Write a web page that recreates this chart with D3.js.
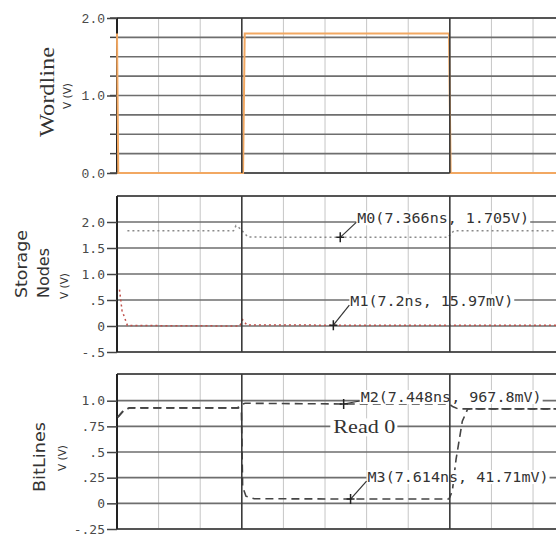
<!DOCTYPE html>
<html><head><meta charset="utf-8">
<script src="https://cdn.jsdelivr.net/npm/d3@7"></script>
<style>html,body{margin:0;padding:0;background:#fff}</style>
</head><body>
<script>
// ---------- data ----------
const wlTime = [2.0, 2.03, 5.03, 5.07, 9.98, 10.02, 12.8];
const wlVolt = [1.8, 0.0, 0.0, 1.8, 1.8, 0.0, 0.0];

const qTime = [2.25, 4.8, 4.86, 4.92, 5.02, 5.15, 7.366, 9.96, 10.03, 10.1, 12.8];
const qVolt = [1.83, 1.83, 1.93, 1.9, 1.82, 1.71, 1.705, 1.705, 1.78, 1.83, 1.83];

const qbTime = [2.06, 2.12, 2.25, 4.95, 5.02, 5.12, 7.2, 12.8];
const qbVolt = [0.70, 0.30, 0.01, 0.0, 0.12, 0.02, 0.016, 0.016];

const blTime = [2.02, 2.15, 2.3, 4.9, 4.97, 5.08, 7.448, 9.98, 10.08, 10.2, 12.8];
const blVolt = [0.84, 0.90, 0.93, 0.93, 0.96, 0.975, 0.968, 0.968, 0.94, 0.92, 0.92];

const blbTime = [2.02, 2.15, 2.3, 4.92, 4.99, 5.02, 5.1, 5.3, 7.614, 9.98, 10.06, 10.15, 10.3, 10.43, 12.8];
const blbVolt = [0.84, 0.90, 0.93, 0.93, 0.90, 0.16, 0.07, 0.045, 0.042, 0.042, 0.12, 0.43, 0.80, 0.92, 0.92];

const markerNames = ["M0", "M1", "M2", "M3"];
const markerTimes = [7.366, 7.2, 7.448, 7.614];
const markerValues = [1.705, 0.01597, 0.9678, 0.04171];
const markerValueText = ["1.705V", "15.97mV", "967.8mV", "41.71mV"];
const markerPanel = [1, 1, 2, 2];

const wlTickValues = [0, 1, 2];
const wlTickLabels = ["0.0", "1.0", "2.0"];
const snTickValues = [-0.5, 0, 0.5, 1, 1.5, 2];
const snTickLabels = ["-.5", "0", ".5", "1.0", "1.5", "2.0"];
const blTickValues = [-0.25, 0, 0.25, 0.5, 0.75, 1];
const blTickLabels = ["-.25", "0", ".25", ".5", ".75", "1.0"];
const timeGrid = [3, 4, 5, 6, 7, 8, 9, 10, 11, 12];
const timeMajor = [5, 10];

// ---------- layout ----------
const W = 556, H = 536;
const svg = d3.select("body").append("svg").attr("width", W).attr("height", H)
  .style("display", "block").style("background", "#fff");

const x = d3.scaleLinear().domain([2, 12.6]).range([117, 558]);

const panels = [
  { y: d3.scaleLinear().domain([0, 2]).range([173, 18]), top: 2, bottom: 0,
    grid: d3.range(0, 2.01, 0.25), ticks: wlTickValues, labels: wlTickLabels,
    minor: d3.range(0, 2.01, 0.25), tickFont: "Liberation Mono", tickSize: 13 },
  { y: d3.scaleLinear().domain([-0.5, 2.5]).range([352, 196]), top: 2.5, bottom: -0.5,
    grid: d3.range(-0.5, 2.01, 0.5), ticks: snTickValues, labels: snTickLabels,
    minor: [], tickFont: "DejaVu Sans Mono", tickSize: 13 },
  { y: d3.scaleLinear().domain([-0.25, 1.26]).range([529, 374]), top: 1.26, bottom: -0.25,
    grid: d3.range(-0.25, 1.01, 0.25), ticks: blTickValues, labels: blTickLabels,
    minor: [], tickFont: "DejaVu Sans Mono", tickSize: 13 }
];

const gridLayer = svg.append("g");
const traceLayer = svg.append("g");
const bgLayer = svg.append("g");
const majorLayer = svg.append("g");
const textLayer = svg.append("g");

panels.forEach((p) => {
  const yT = p.y(p.top), yB = p.y(p.bottom);
  gridLayer.selectAll(null).data(timeGrid.filter(t => !timeMajor.includes(t))).join("line")
    .attr("x1", d => x(d)).attr("x2", d => x(d)).attr("y1", yT).attr("y2", yB)
    .attr("stroke", "#c6c6c6").attr("stroke-width", 1);
  gridLayer.selectAll(null).data(p.grid).join("line")
    .attr("x1", 117).attr("x2", W).attr("y1", d => p.y(d)).attr("y2", d => p.y(d))
    .attr("stroke", "#6e6e6e").attr("stroke-width", 1.7);
  gridLayer.append("line").attr("x1", 117).attr("x2", W).attr("y1", yT).attr("y2", yT)
    .attr("stroke", "#555").attr("stroke-width", 2);
  gridLayer.append("line").attr("x1", 117).attr("x2", W).attr("y1", yB).attr("y2", yB)
    .attr("stroke", "#555").attr("stroke-width", 2);
  majorLayer.selectAll(null).data(timeMajor).join("line")
    .attr("x1", d => x(d)).attr("x2", d => x(d)).attr("y1", yT).attr("y2", yB)
    .attr("stroke", "#3a3a3a").attr("stroke-width", 1.6);
  const ax = d3.axisLeft(p.y).tickValues(p.ticks)
    .tickFormat((d, i) => p.labels[i]).tickSize(10).tickPadding(2);
  const g = gridLayer.append("g").attr("transform", "translate(117,0)").call(ax);
  g.select(".domain").attr("d", `M0,${yT}V${yB}`).attr("stroke", "#222").attr("stroke-width", 2);
  g.selectAll(".tick line").attr("stroke", "#444").attr("stroke-width", 1.5);
  g.selectAll(".tick text").attr("font-family", p.tickFont).attr("font-size", p.tickSize)
    .attr("fill", "#4a4a4a");
  if (p.minor.length) {
    gridLayer.selectAll(null).data(p.minor).join("line")
      .attr("x1", 110).attr("x2", 117).attr("y1", d => p.y(d)).attr("y2", d => p.y(d))
      .attr("stroke", "#444").attr("stroke-width", 1.5);
  }
});

// ---------- traces ----------
function drawTrace(times, volts, panel, color, dash, width) {
  const pts = times.map((t, i) => [t, volts[i]]);
  const line = d3.line().x(d => x(d[0])).y(d => panels[panel].y(d[1]));
  traceLayer.append("path").attr("d", line(pts)).attr("fill", "none")
    .attr("stroke", color).attr("stroke-width", width)
    .attr("stroke-dasharray", dash);
}
drawTrace(wlTime, wlVolt, 0, "#f2a862", null, 2);
drawTrace(qTime, qVolt, 1, "#8a8a8a", "2,3", 1.5);
drawTrace(qbTime, qbVolt, 1, "#c0504a", "2,3", 1.5);
drawTrace(blTime, blVolt, 2, "#444", "8,5", 1.6);
drawTrace(blbTime, blbVolt, 2, "#444", "8,5", 1.6);

// ---------- markers ----------
const labelDy = [-19, -24, -7, -22];
markerNames.forEach((m, i) => {
  const p = panels[markerPanel[i]];
  const mx = x(markerTimes[i]), my = p.y(markerValues[i]);
  const tx = mx + 17, ty = my + labelDy[i];
  const label = `${m}(${markerTimes[i]}ns, ${markerValueText[i]})`;
  const len = label.length * 9.05;
  bgLayer.append("rect").attr("x", tx - 1).attr("y", ty - 7).attr("width", len + 2)
    .attr("height", 14).attr("fill", "#fff");
  textLayer.append("text").attr("x", tx).attr("y", ty).attr("dominant-baseline", "central")
    .attr("font-family", "DejaVu Sans Mono").attr("font-size", 13.5).attr("fill", "#333")
    .attr("textLength", len).attr("lengthAdjust", "spacingAndGlyphs").text(label);
  textLayer.append("line").attr("x1", tx - 1).attr("y1", ty + 4).attr("x2", mx).attr("y2", my)
    .attr("stroke", "#333").attr("stroke-width", 1.2);
  textLayer.append("path").attr("d", `M${mx - 4},${my}H${mx + 4}M${mx},${my - 5}V${my + 5}`)
    .attr("stroke", "#222").attr("stroke-width", 1.5);
});

// Read 0
const r0x = x(7.2), r0y = panels[2].y(0.74);
bgLayer.append("rect").attr("x", r0x - 3).attr("y", r0y - 9).attr("width", 67).attr("height", 18).attr("fill", "#fff");
textLayer.append("text").attr("x", r0x).attr("y", r0y).attr("dominant-baseline", "central")
  .attr("font-family", "Liberation Serif").attr("font-size", 18).attr("fill", "#333")
  .attr("textLength", 62).attr("lengthAdjust", "spacingAndGlyphs").text("Read 0");

// ---------- axis titles ----------
function vtext(txt, bx, cy, font, size, anchor, len, color) {
  const t = textLayer.append("text").attr("transform", `translate(${bx},${cy}) rotate(-90)`)
    .attr("text-anchor", anchor).attr("font-family", font).attr("font-size", size)
    .attr("fill", color || "#333").text(txt);
  if (len) t.attr("textLength", len).attr("lengthAdjust", "spacingAndGlyphs");
}
vtext("Wordline", 54, 92, "Liberation Serif", 20, "middle", 90);
vtext("V (V)", 71, 96, "DejaVu Sans", 10.5, "middle");
vtext("Storage", 27, 298, "DejaVu Sans", 16, "start", 68);
vtext("Nodes", 49, 298, "DejaVu Sans", 16, "start", 50);
vtext("V (V)", 68, 286, "DejaVu Sans", 10.5, "middle");
vtext("BitLines", 45, 457, "DejaVu Sans", 16, "middle", 70);
vtext("V (V)", 66, 458, "DejaVu Sans", 10.5, "middle");
</script>
</body></html>
